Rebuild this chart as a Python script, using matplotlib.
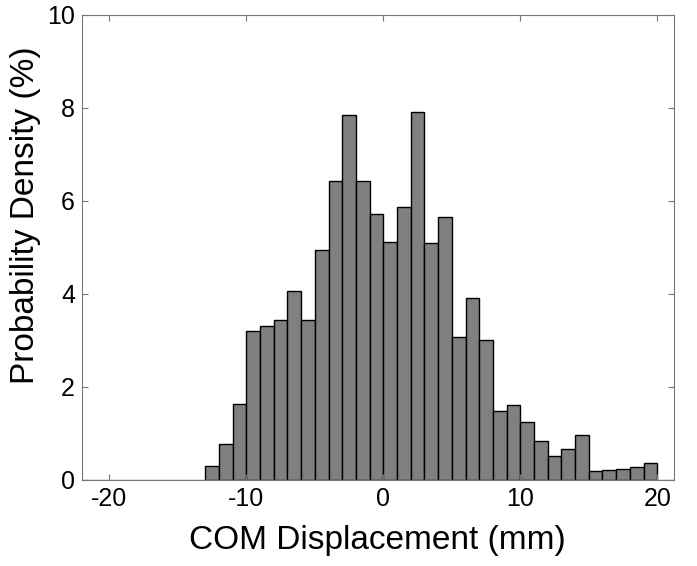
import numpy as np
import matplotlib.pyplot as plt

plt.rcParams['font.family'] = ['Liberation Sans', 'DejaVu Sans']
plt.rcParams['axes.unicode_minus'] = False

# histogram bins (mm) and probability density (%)
bin_edges = np.arange(-13, 21, 1)
density = [0.29, 0.77, 1.63, 3.20, 3.31, 3.43, 4.06, 3.45, 4.95, 6.42,
           7.84, 6.44, 5.71, 5.11, 5.86, 7.92, 5.10, 5.66, 3.07, 3.91,
           3.01, 1.48, 1.61, 1.24, 0.83, 0.52, 0.66, 0.96, 0.19, 0.21,
           0.24, 0.27, 0.36]
xticks = [-20, -10, 0, 10, 20]
yticks = [0, 2, 4, 6, 8, 10]

fig = plt.figure(figsize=(6.97, 5.66), dpi=100)
ax = fig.add_axes([0.1176, 0.152, 0.849, 0.8215])

ax.bar(bin_edges[:-1], density, width=np.diff(bin_edges), align='edge',
       color='#808080', edgecolor='black', linewidth=1.0)
ax.axhline(0, color='#777777', linewidth=1.0)

ax.set_xlim(-22, 21.2)
ax.set_ylim(0, 10)
ax.set_xticks(xticks)
ax.set_yticks(yticks)
ax.tick_params(direction='in', top=True, right=True, length=4, width=0.8,
               color='#777777', labelsize=18, pad=5)
for s in ax.spines.values():
    s.set_color('#777777')
    s.set_linewidth(0.8)

ax.set_xlabel('COM Displacement (mm)', fontsize=24, labelpad=10)
ax.set_ylabel('Probability Density (%)', fontsize=24)
ax.yaxis.set_label_coords(-0.069, 0.57)

plt.savefig('out.png', dpi=100)
